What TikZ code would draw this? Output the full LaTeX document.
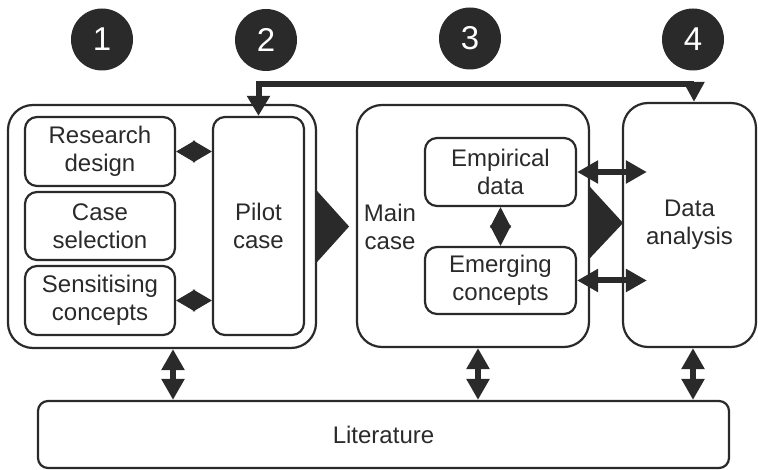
\documentclass[tikz,border=0pt]{standalone}
\usepackage{fontspec}
\setmainfont{Liberation Sans}
\usetikzlibrary{arrows.meta,calc}
\definecolor{ink}{HTML}{2A2A2A}
\begin{document}
\begin{tikzpicture}[x=1pt,y=-1pt,
  box/.style={draw=ink, line width=2.2pt, rounded corners=12pt, inner sep=0pt,
    align=center, text=ink, font=\fontsize{24}{28}\selectfont},
  big/.style={box, rounded corners=25pt},
  num/.style={circle, fill=ink, text=white, minimum size=62pt, inner sep=0pt,
    font=\fontsize{33}{33}\selectfont},
  dbl/.style={draw=ink, line width=6pt,
    {Triangle[length=21pt,width=22pt]}-{Triangle[length=21pt,width=22pt]}},
  diam/.style={draw=ink, line width=1pt,
    {Triangle[length=19pt,width=22pt]}-{Triangle[length=19pt,width=22pt]}},
  vdiam/.style={draw=ink, line width=1pt,
    {Triangle[length=20.5pt,width=21pt]}-{Triangle[length=20.5pt,width=21pt]}},
  toparrow/.style={draw=ink, line width=6pt, line join=miter,
    {Triangle[length=20pt,width=22pt]}-{Triangle[length=20pt,width=20pt]}},
  lbl/.style={text=ink, align=center, font=\fontsize{24}{28}\selectfont}
]
\useasboundingbox (0,0) rectangle (758,470);

% numbered circles
\node[num] (n1) at (102,39.5) {1};
\node[num] (n2) at (266,40) {2};
\node[num] (n3) at (470,38.5) {3};
\node[num] (n4) at (693,39.5) {4};

% big boxes
\node[big, minimum width=308pt, minimum height=243pt] (left) at (162,226.5) {};
\node[big, minimum width=232pt, minimum height=242pt] (main) at (473,226) {};
\node[big, minimum width=133pt, minimum height=244pt] (data) at (689.5,225) {Data\\analysis};
\node[box, rounded corners=10pt, minimum width=691pt, minimum height=67pt] (lit) at (383.5,434.5) {Literature};

% inner boxes
\node[box, minimum width=150pt, minimum height=69pt] (rd) at (100,151.5) {Research\\design};
\node[box, minimum width=150pt, minimum height=68pt] (cs) at (100,226) {Case\\selection};
\node[box, minimum width=150pt, minimum height=69pt] (sc) at (100,300.5) {Sensitising\\concepts};
\node[box, minimum width=91pt, minimum height=218pt] (pilot) at (258.5,226) {Pilot\\case};
\node[lbl] (mc) at (390,227) {Main\\case};
\node[box, minimum width=151pt, minimum height=68pt] (emp) at (500.5,172) {Empirical\\data};
\node[box, minimum width=151pt, minimum height=67pt] (emer) at (500.5,280.5) {Emerging\\concepts};

% diamond connectors
\draw[diam] (rd.east) -- (rd.east -| pilot.west);
\draw[diam] (sc.east) -- (sc.east -| pilot.west);
\draw[vdiam] (emp.south) -- (emer.north);

% arrows to data analysis
\draw[dbl] (emp.east) -- ([xshift=25pt]emp.east -| data.west);
\draw[dbl] (emer.east) -- ([xshift=25pt]emer.east -| data.west);

% big phase triangles
\fill[ink] ($(left.east)+(0,-35.5)$) -- ($(left.east)+(32,0)$) -- ($(left.east)+(0,35.5)$) -- cycle;
\fill[ink] ($(main.east)+(0,-39)$) -- ($(main.east)+(33,-3)$) -- ($(main.east)+(0,32)$) -- cycle;

% top feedback arrow
\coordinate (topy) at (0,84);
\draw[toparrow] (pilot.north) -- (pilot.north |- topy) -| ([xshift=4.5pt]data.north);

% literature links
\draw[dbl] ([xshift=11pt]left.south) -- ([xshift=11pt]left.south |- lit.north);
\draw[dbl] ([xshift=5pt]main.south) -- ([xshift=5pt]main.south |- lit.north);
\draw[dbl] ([xshift=3.5pt]data.south) -- ([xshift=3.5pt]data.south |- lit.north);
\end{tikzpicture}
\end{document}
